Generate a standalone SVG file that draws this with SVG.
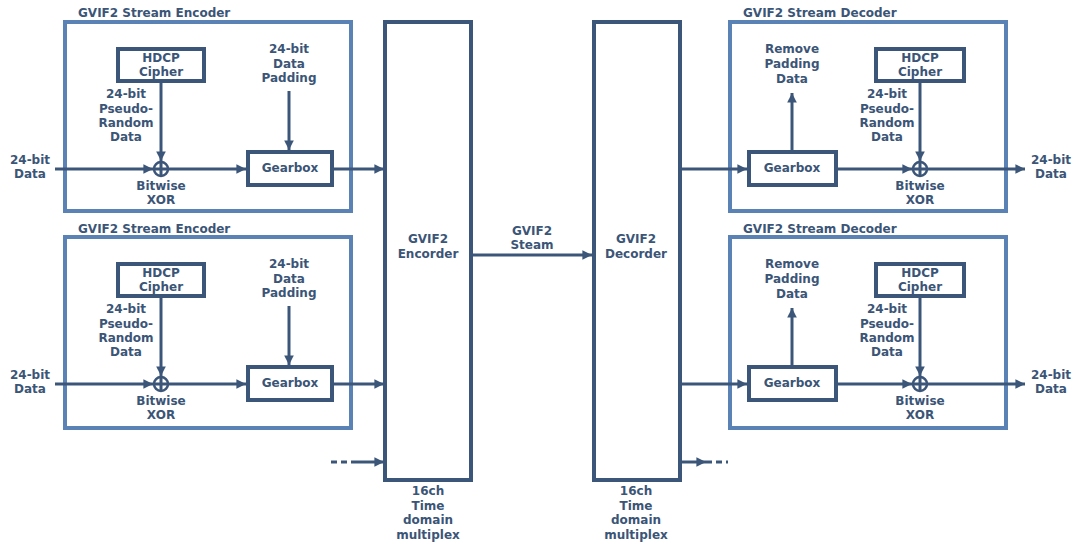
<svg xmlns="http://www.w3.org/2000/svg" width="1078" height="545" viewBox="0 0 1078 545">
<defs>
<style>
text{font-family:"DejaVu Sans",Verdana,sans-serif;font-weight:bold;font-size:12px;fill:#3b5577;text-anchor:middle}
.t{text-anchor:start}
.outer{fill:none;stroke:#5b82b5;stroke-width:4}
.blk{fill:#fff;stroke:#3c5679;stroke-width:4}
.ln{fill:none;stroke:#3c5679;stroke-width:3}
.ds{fill:none;stroke:#3c5679;stroke-width:3;stroke-dasharray:6 4}
.xor{fill:#fff;stroke:#3c5679;stroke-width:2.5}
</style>
<marker id="ah" viewBox="0 0 10 10" refX="10" refY="5" markerWidth="3.2" markerHeight="3.6" markerUnits="strokeWidth" orient="auto">
<path d="M0,0 L10,5 L0,10 Z" fill="#3c5679"/>
</marker>
</defs>
<rect width="1078" height="545" fill="#fff"/>

<!-- Encoders -->
<g id="enc1">
<text class="t" x="78" y="17">GVIF2 Stream Encoder</text>
<rect class="outer" x="65" y="22" width="286" height="189"/>
<g id="enc1-hdcp"><rect class="blk" x="118" y="49" width="86" height="32"/><text x="161" y="62">HDCP</text><text x="161" y="76">Cipher</text></g>
<text x="126" y="98">24-bit</text><text x="126" y="113">Pseudo-</text><text x="126" y="127">Random</text><text x="126" y="141">Data</text>
<text x="289" y="53">24-bit</text><text x="289" y="68">Data</text><text x="289" y="82">Padding</text>
<g id="enc1-gear"><rect class="blk" x="248" y="152" width="84" height="33"/><text x="290" y="172">Gearbox</text></g>
<g id="enc1-xor"><circle class="xor" cx="161" cy="169" r="7"/><path class="ln" d="M161,162V176M154,169H168" stroke-width="2"/></g>
<text x="161" y="190">Bitwise</text><text x="161" y="204">XOR</text>
</g>
<g id="enc2" transform="translate(0,215)">
<text class="t" x="78" y="18">GVIF2 Stream Encoder</text>
<rect class="outer" x="65" y="22" width="286" height="191"/>
<g id="enc2-hdcp"><rect class="blk" x="118" y="49" width="86" height="32"/><text x="161" y="62">HDCP</text><text x="161" y="76">Cipher</text></g>
<text x="126" y="98">24-bit</text><text x="126" y="113">Pseudo-</text><text x="126" y="127">Random</text><text x="126" y="141">Data</text>
<text x="289" y="53">24-bit</text><text x="289" y="68">Data</text><text x="289" y="82">Padding</text>
<g id="enc2-gear"><rect class="blk" x="248" y="152" width="84" height="33"/><text x="290" y="172">Gearbox</text></g>
<g id="enc2-xor"><circle class="xor" cx="161" cy="169" r="7"/><path class="ln" d="M161,162V176M154,169H168" stroke-width="2"/></g>
<text x="161" y="190">Bitwise</text><text x="161" y="204">XOR</text>
</g>

<!-- Decoders -->
<g id="dec1">
<text class="t" x="743" y="17">GVIF2 Stream Decoder</text>
<rect class="outer" x="730" y="22" width="276" height="189"/>
<text x="792" y="53">Remove</text><text x="792" y="68">Padding</text><text x="792" y="83">Data</text>
<g id="dec1-gear"><rect class="blk" x="749" y="152" width="87" height="33"/><text x="792" y="172">Gearbox</text></g>
<g id="dec1-hdcp"><rect class="blk" x="876" y="49" width="88" height="32"/><text x="920" y="62">HDCP</text><text x="920" y="76">Cipher</text></g>
<text x="887" y="98">24-bit</text><text x="887" y="113">Pseudo-</text><text x="887" y="127">Random</text><text x="887" y="141">Data</text>
<g id="dec1-xor"><circle class="xor" cx="920" cy="169" r="7"/><path class="ln" d="M920,162V176M913,169H927" stroke-width="2"/></g>
<text x="920" y="190">Bitwise</text><text x="920" y="204">XOR</text>
</g>
<g id="dec2" transform="translate(0,215)">
<text class="t" x="743" y="18">GVIF2 Stream Decoder</text>
<rect class="outer" x="730" y="22" width="276" height="191"/>
<text x="792" y="53">Remove</text><text x="792" y="68">Padding</text><text x="792" y="83">Data</text>
<g id="dec2-gear"><rect class="blk" x="749" y="152" width="87" height="33"/><text x="792" y="172">Gearbox</text></g>
<g id="dec2-hdcp"><rect class="blk" x="876" y="49" width="88" height="32"/><text x="920" y="62">HDCP</text><text x="920" y="76">Cipher</text></g>
<text x="887" y="98">24-bit</text><text x="887" y="113">Pseudo-</text><text x="887" y="127">Random</text><text x="887" y="141">Data</text>
<g id="dec2-xor"><circle class="xor" cx="920" cy="169" r="7"/><path class="ln" d="M920,162V176M913,169H927" stroke-width="2"/></g>
<text x="920" y="190">Bitwise</text><text x="920" y="204">XOR</text>
</g>

<!-- Big blocks -->
<g id="gvif2-encoder">
<rect class="blk" x="385" y="22" width="86" height="458"/>
<text x="428" y="243">GVIF2</text><text x="428" y="258">Encorder</text>
<text x="428" y="495">16ch</text><text x="428" y="510">Time</text><text x="428" y="524">domain</text><text x="428" y="539">multiplex</text>
</g>
<g id="gvif2-decoder">
<rect class="blk" x="594" y="22" width="86" height="458"/>
<text x="636" y="243">GVIF2</text><text x="636" y="258">Decorder</text>
<text x="636" y="495">16ch</text><text x="636" y="510">Time</text><text x="636" y="524">domain</text><text x="636" y="539">multiplex</text>
</g>

<!-- External labels -->
<g id="labels">
<text x="30" y="164">24-bit</text><text x="30" y="178">Data</text>
<text x="30" y="379">24-bit</text><text x="30" y="393">Data</text>
<text x="1051" y="164">24-bit</text><text x="1051" y="178">Data</text>
<text x="1051" y="379">24-bit</text><text x="1051" y="393">Data</text>
<text x="532" y="235">GVIF2</text><text x="532" y="249">Steam</text>
</g>

<!-- Connectors -->
<g id="connectors">
<g id="enc1-conn">
<path class="ln" d="M55,169H153" marker-end="url(#ah)"/>
<path class="ln" d="M168,169H246" marker-end="url(#ah)"/>
<path class="ln" d="M334,169H384" marker-end="url(#ah)"/>
<path class="ln" d="M161,83V161" marker-end="url(#ah)"/>
<path class="ln" d="M289,91V150" marker-end="url(#ah)"/>
</g>
<g id="enc2-conn" transform="translate(0,215)">
<path class="ln" d="M55,169H153" marker-end="url(#ah)"/>
<path class="ln" d="M168,169H246" marker-end="url(#ah)"/>
<path class="ln" d="M334,169H384" marker-end="url(#ah)"/>
<path class="ln" d="M161,83V161" marker-end="url(#ah)"/>
<path class="ln" d="M289,91V150" marker-end="url(#ah)"/>
</g>
<g id="dec1-conn">
<path class="ln" d="M682,169H747" marker-end="url(#ah)"/>
<path class="ln" d="M838,169H912" marker-end="url(#ah)"/>
<path class="ln" d="M927,169H1025" marker-end="url(#ah)"/>
<path class="ln" d="M920,83V161" marker-end="url(#ah)"/>
<path class="ln" d="M792,150V93" marker-end="url(#ah)"/>
</g>
<g id="dec2-conn" transform="translate(0,215)">
<path class="ln" d="M682,169H747" marker-end="url(#ah)"/>
<path class="ln" d="M838,169H912" marker-end="url(#ah)"/>
<path class="ln" d="M927,169H1025" marker-end="url(#ah)"/>
<path class="ln" d="M920,83V161" marker-end="url(#ah)"/>
<path class="ln" d="M792,150V93" marker-end="url(#ah)"/>
</g>
<path class="ln" d="M473,255H592" marker-end="url(#ah)"/>
<path class="ds" d="M331,462H357"/>
<path class="ln" d="M357,462H384" marker-end="url(#ah)"/>
<path class="ln" d="M682,462H706" marker-end="url(#ah)"/>
<path class="ds" d="M706,462H728"/>
</g>
</svg>
